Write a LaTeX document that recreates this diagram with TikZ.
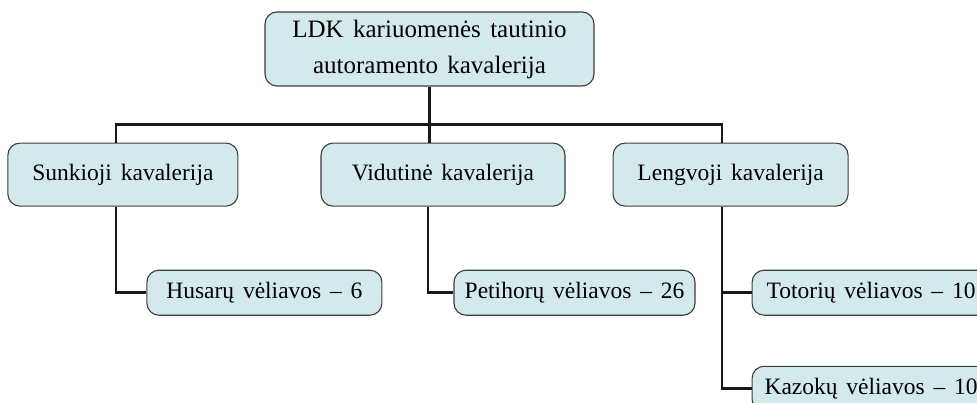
\documentclass[tikz,border=0pt]{standalone}
\usepackage{fontspec}
\setmainfont[WordSpace=1.5]{Liberation Serif}
\usetikzlibrary{positioning}
\definecolor{boxfill}{HTML}{D3E9EC}
\definecolor{boxline}{HTML}{3C3C3C}

\begin{document}
\begin{tikzpicture}[
  x=1pt, y=1pt,
  card/.style={rectangle, draw=boxline, line width=1.1pt, rounded corners=12pt,
               fill=boxfill, align=center, inner sep=2pt,
               font=\fontsize{23.5}{30}\selectfont},
  head/.style={card, minimum width=329pt, minimum height=74pt,
               font=\fontsize{25}{36}\selectfont},
  kind/.style={card, minimum height=63pt},
  banner/.style={card, minimum height=45pt},
  link/.style={line width=2.7pt, draw=black!90},
]
\useasboundingbox (0,0) rectangle (977,-402);
\clip (0,0) rectangle (977,-402);

% Row 1: whole cavalry
\node[head] (ldk) at (429.5,-49) {LDK kariuomenės tautinio\\autoramento kavalerija};

% Row 2: heavy, medium, light
\node[kind, minimum width=230pt, below left=56pt and 26pt of ldk] (sunk) {Sunkioji kavalerija};
\node[kind, minimum width=244pt, right=82pt of sunk] (vid) {Vidutinė kavalerija};
\node[kind, minimum width=235pt, right=47pt of vid] (leng) {Lengvoji kavalerija};

% Row 3: banners
\node[banner, minimum width=235pt, below=63pt of sunk, xshift=141.5pt] (hus) {Husarų vėliavos – 6};
\node[banner, minimum width=241pt, right=71pt of hus] (pet) {Petihorų vėliavos – 26};
\node[banner, minimum width=238pt, right=56pt of pet] (tot) {Totorių vėliavos – 10};
\node[banner, minimum width=238pt, below=50pt of tot] (kaz) {Kazokų vėliavos – 10};

% Tree links
\coordinate[below=38pt of ldk] (bus);
\draw[link] (ldk) -- (bus);
\draw[link] ([xshift=-7pt]sunk.north) |- (bus) -| ([xshift=-8.5pt]leng.north);
\draw[link] (bus) -- (bus |- vid.north);
\draw[link] ([xshift=-7pt]sunk.south) |- (hus);
\draw[link] ([xshift=-15pt]vid.south) |- (pet);
\draw[link] ([xshift=-8.5pt]leng.south) |- (tot);
\draw[link] ([xshift=-8.5pt]leng.south) |- (kaz);
\end{tikzpicture}
\end{document}
